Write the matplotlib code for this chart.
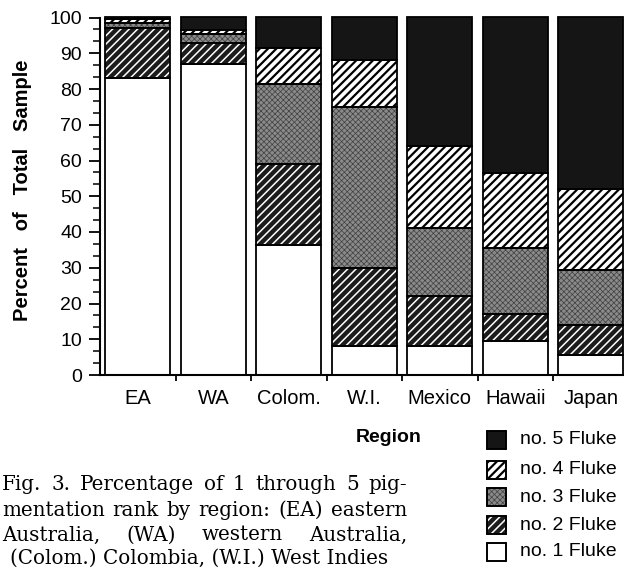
import matplotlib
matplotlib.use('Agg')
import matplotlib.pyplot as plt
import numpy as np
from matplotlib.patches import Rectangle
from matplotlib.ticker import MultipleLocator

# ---------------- data ----------------
categories = ['EA', 'WA', 'Colom.', 'W.I.', 'Mexico', 'Hawaii', 'Japan']
no1 = [83.0, 87.0, 36.5, 8.0, 8.0, 9.5, 5.5]
no2 = [14.0, 6.0, 22.5, 22.0, 14.0, 7.5, 8.5]
no3 = [1.5, 2.5, 22.5, 45.0, 19.0, 18.5, 15.5]
no4 = [1.0, 1.0, 10.0, 13.0, 23.0, 21.0, 22.5]
no5 = [0.5, 3.5, 8.5, 12.0, 36.0, 43.5, 48.0]
series_names = ['no. 1 Fluke', 'no. 2 Fluke', 'no. 3 Fluke', 'no. 4 Fluke', 'no. 5 Fluke']
series_vals = [no1, no2, no3, no4, no5]

caption_lines = [
    "Fig. 3. Percentage of 1 through 5 pig-",
    "mentation rank by region: (EA) eastern",
    "Australia, (WA) western Australia,",
    "(Colom.) Colombia, (W.I.) West Indies",
]

# ---------------- styles ----------------
# (facecolor, hatchcolor, hatch, hatch linewidth)
styles = [
    ('white', 'white', None, 1.0),
    ('#1c1c1c', 'white', '////', 1.1),
    ('#8a8a8a', '#404040', 'xxxxxx', 0.5),
    ('white', 'black', '////', 1.6),
    ('#151515', '#151515', None, 1.0),
]

SANS = ['Liberation Sans', 'DejaVu Sans']
plt.rcParams['font.family'] = SANS

W, H = 624, 571
fig = plt.figure(figsize=(W / 100, H / 100), dpi=100)
ax = fig.add_axes([100 / W, 1 - 375 / H, 524 / W, (375 - 17.5) / H])

x = np.arange(len(categories))
width = 0.86
bottom = np.zeros(len(categories))


def set_hlw(patch, lw):
    try:
        patch.set_hatch_linewidth(lw)
    except Exception:
        patch._hatch_linewidth = lw


for vals, (fc, hc, hatch, hlw) in zip(series_vals, styles):
    vals = np.array(vals)
    with plt.rc_context({'hatch.linewidth': hlw}):
        bars = ax.bar(x, vals, width, bottom=bottom, color=fc, edgecolor=hc,
                      linewidth=0, hatch=hatch, clip_on=False, zorder=2)
    for p in bars:
        set_hlw(p, hlw)
    ax.bar(x, vals, width, bottom=bottom, fill=False, edgecolor='black',
           linewidth=1.3, clip_on=False, zorder=3)
    bottom = bottom + vals

ax.set_xlim(-0.5, 6.44)
ax.set_ylim(0, 100)
for s in ['top', 'right']:
    ax.spines[s].set_visible(False)
ax.spines['left'].set_linewidth(1.5)
ax.spines['bottom'].set_linewidth(1.5)

ax.set_xticks(x)
ax.set_xticklabels(categories, fontsize=14.5)
ax.tick_params(axis='x', which='major', length=0, pad=10)
ax.set_xticks(x[:-1] + 0.5, minor=True)
ax.tick_params(axis='x', which='minor', length=4, width=1.3, direction='out')

ax.yaxis.set_major_locator(MultipleLocator(10))
ax.yaxis.set_minor_locator(MultipleLocator(10 / 3))
ax.tick_params(axis='y', which='major', length=8, width=1.3, pad=5, labelsize=14)
ax.tick_params(axis='y', which='minor', length=5, width=1.1)

fig.text(23 / W, 1 - 190 / H, 'Percent   of   Total   Sample', rotation=90,
         ha='center', va='center', fontsize=14.5, fontweight='bold')
fig.text(389 / W, 1 - 437 / H, 'Region', ha='center', va='center',
         fontsize=14, fontweight='bold')

# ---------------- overlay for legend and caption ----------------
ov = fig.add_axes([0, 0, 1, 1])
ov.set_xlim(0, W)
ov.set_ylim(H, 0)
ov.axis('off')
ov.patch.set_visible(False)

legend_rows = [552, 525, 497, 470, 440]  # rows for no.1 .. no.5
for name, (fc, hc, hatch, hlw), yc in zip(series_names, styles, legend_rows):
    with plt.rc_context({'hatch.linewidth': hlw}):
        r = Rectangle((487, yc - 9), 19, 18, facecolor=fc, edgecolor=hc,
                      linewidth=0, hatch=hatch)
    set_hlw(r, hlw)
    ov.add_patch(r)
    ov.add_patch(Rectangle((487, yc - 9), 19, 18, fill=False,
                           edgecolor='black', linewidth=1.4))
    ov.text(520, yc, name, ha='left', va='center', fontsize=14)

# caption (justified lines)
SERIF = ['DejaVu Serif']
cap_fs = 14.3
fig.canvas.draw()
renderer = fig.canvas.get_renderer()


def justify(line, y, x0, x1):
    words = line.split(' ')
    texts = [ov.text(0, y, w, ha='left', va='center', fontsize=cap_fs,
                     family=SERIF) for w in words]
    widths = [t.get_window_extent(renderer).width for t in texts]
    gap = (x1 - x0 - sum(widths)) / (len(words) - 1)
    pos = x0
    for t, w in zip(texts, widths):
        t.set_x(pos)
        pos += w + gap


justify(caption_lines[0], 485, 2, 407)
justify(caption_lines[1], 510, 2, 407)
justify(caption_lines[2], 535, 2, 407)
ov.text(10, 558, caption_lines[3], ha='left', va='center', fontsize=cap_fs,
        family=SERIF)

fig.savefig('out.png', dpi=100)
